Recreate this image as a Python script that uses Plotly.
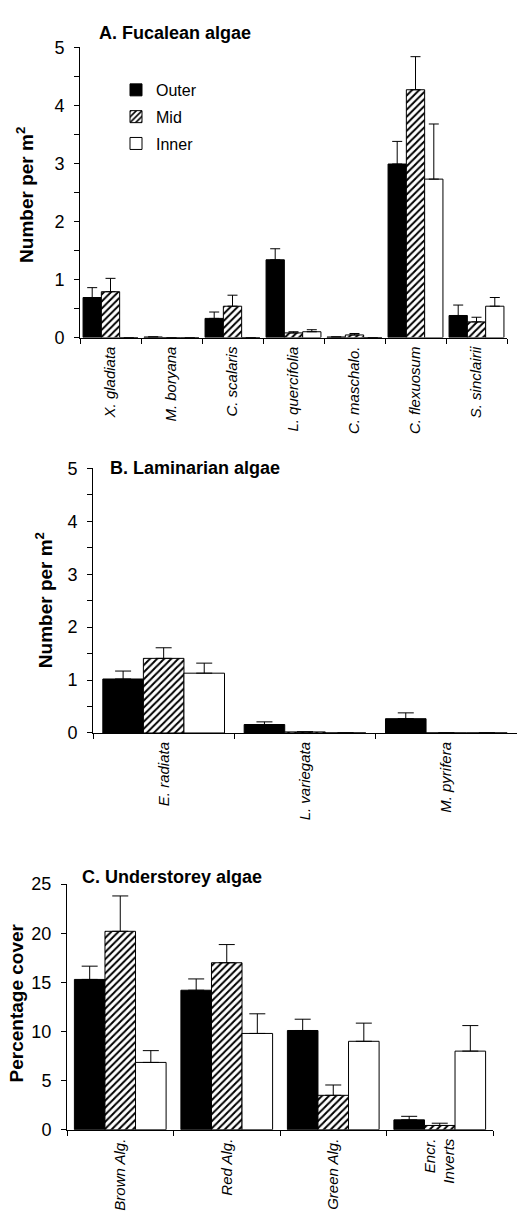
import plotly.graph_objects as go

# ---- Panel A: Fucalean algae (number per m2) ----
fuc_species = ["X. gladiata", "M. boryana", "C. scalaris", "L. quercifolia",
               "C. maschalo.", "C. flexuosum", "S. sinclairii"]
fuc_outer = [0.69, 0.01, 0.33, 1.34, 0.01, 2.99, 0.38]
fuc_outer_se = [0.17, 0.0, 0.11, 0.19, 0.0, 0.39, 0.18]
fuc_mid = [0.79, 0.0, 0.54, 0.08, 0.045, 4.27, 0.27]
fuc_mid_se = [0.23, 0.0, 0.19, 0.02, 0.025, 0.57, 0.08]
fuc_inner = [0.0, 0.0, 0.0, 0.10, 0.0, 2.73, 0.54]
fuc_inner_se = [0.0, 0.0, 0.0, 0.035, 0.0, 0.95, 0.15]

# ---- Panel B: Laminarian algae (number per m2) ----
lam_species = ["E. radiata", "L. variegata", "M. pyrifera"]
lam_outer = [1.02, 0.16, 0.27]
lam_outer_se = [0.15, 0.05, 0.11]
lam_mid = [1.41, 0.02, 0.0]
lam_mid_se = [0.20, 0.0, 0.0]
lam_inner = [1.13, 0.0, 0.0]
lam_inner_se = [0.19, 0.0, 0.0]

# ---- Panel C: Understorey algae (percentage cover) ----
und_groups = ["Brown Alg.", "Red Alg.", "Green Alg.", "Encr.<br>Inverts"]
und_outer = [15.3, 14.2, 10.1, 1.0]
und_outer_se = [1.35, 1.15, 1.15, 0.36]
und_mid = [20.2, 17.0, 3.5, 0.43]
und_mid_se = [3.6, 1.85, 1.05, 0.23]
und_inner = [6.85, 9.8, 9.0, 8.0]
und_inner_se = [1.2, 2.0, 1.85, 2.6]

zones = ["Outer", "Mid", "Inner"]

W, H = 517, 1223
FONT = "Liberation Sans, Arial, sans-serif"


def px_x(p):
    return p / W


def px_y(p):
    return 1 - p / H


def zone_marker(zone):
    line = dict(color="black", width=1)
    if zone == "Outer":
        return dict(color="black", line=line)
    if zone == "Mid":
        return dict(color="white", line=line,
                    pattern=dict(shape="/", fgcolor="black", bgcolor="white",
                                 size=5, solidity=0.4, fillmode="replace"))
    return dict(color="white", line=line)


panels = [
    dict(cats=fuc_species, vals=[fuc_outer, fuc_mid, fuc_inner],
         ses=[fuc_outer_se, fuc_mid_se, fuc_inner_se], ax="", width=0.30, cap=5),
    dict(cats=lam_species, vals=[lam_outer, lam_mid, lam_inner],
         ses=[lam_outer_se, lam_mid_se, lam_inner_se], ax="2", width=0.287, cap=8),
    dict(cats=und_groups, vals=[und_outer, und_mid, und_inner],
         ses=[und_outer_se, und_mid_se, und_inner_se], ax="3", width=0.287, cap=8),
]

fig = go.Figure()
for pi, p in enumerate(panels):
    w = p["width"]
    for zi, zone in enumerate(zones):
        fig.add_trace(go.Bar(
            x=p["cats"], y=p["vals"][zi],
            name=zone, legendgroup=zone, showlegend=(pi == 0),
            xaxis="x" + p["ax"], yaxis="y" + p["ax"],
            width=w, offset=-1.5 * w + zi * w,
            marker=zone_marker(zone),
            error_y=dict(type="data", symmetric=False, array=p["ses"][zi],
                         arrayminus=[0] * len(p["cats"]),
                         color="black", thickness=1, width=p["cap"]),
        ))

xcommon = dict(type="category", showline=True, linecolor="black", linewidth=1,
               ticks="outside", tickson="boundaries", ticklen=5, tickcolor="black",
               tickangle=-90, showgrid=False, zeroline=False, fixedrange=True,
               tickfont=dict(family=FONT, size=15, color="black", style="italic"),
               ticklabelstandoff=2)
ycommon = dict(showline=True, linecolor="black", linewidth=1, ticks="outside",
               ticklen=5, tickcolor="black", showgrid=False, zeroline=False,
               tickfont=dict(family=FONT, size=18, color="black"),
               ticklabelstandoff=6, fixedrange=True)

fig.update_layout(
    width=W, height=H, autosize=False,
    margin=dict(l=0, r=0, t=0, b=0),
    paper_bgcolor="white", plot_bgcolor="white",
    barmode="overlay",
    font=dict(family=FONT, color="black"),
    xaxis=dict(xcommon, domain=[px_x(80), px_x(507)], anchor="y"),
    yaxis=dict(ycommon, domain=[px_y(333), px_y(38)], range=[0, 5], dtick=1,
               minor=dict(dtick=0.5, ticks="outside", ticklen=5, tickcolor="black"),
               anchor="x"),
    xaxis2=dict(xcommon, domain=[px_x(93), 1.0], anchor="y2"),
    yaxis2=dict(ycommon, domain=[px_y(735), px_y(466)], range=[0, 5], dtick=1,
                minor=dict(dtick=0.5, ticks="outside", ticklen=5, tickcolor="black"),
                anchor="x2"),
    xaxis3=dict(xcommon, domain=[px_x(67), px_x(493)], anchor="y3"),
    yaxis3=dict(ycommon, domain=[px_y(1138.3), px_y(888.7)], range=[0, 25], dtick=5,
                anchor="x3"),
    legend=dict(x=px_x(116), y=px_y(64), xanchor="left", yanchor="top",
                bgcolor="rgba(0,0,0,0)", borderwidth=0, tracegroupgap=3,
                font=dict(family=FONT, size=16, color="black")),
)

titles = [
    ("A. Fucalean algae", 97, 23),
    ("B. Laminarian algae", 108, 465.5),
    ("C. Understorey algae", 80, 881.5),
]
for text, x, y in titles:
    fig.add_annotation(text="<b>" + text + "</b>", x=px_x(x), y=px_y(y),
                       xref="paper", yref="paper", xanchor="left", yanchor="middle",
                       showarrow=False, font=dict(family=FONT, size=18, color="black"))

ytitles = [
    ("Number per m<sup>2</sup>", 25, 188),
    ("Number per m<sup>2</sup>", 44, 600),
    ("Percentage cover", 16, 1010),
]
for text, x, y in ytitles:
    fig.add_annotation(text="<b>" + text + "</b>", x=px_x(x), y=px_y(y),
                       xref="paper", yref="paper", xanchor="center", yanchor="middle",
                       textangle=-90, showarrow=False,
                       font=dict(family=FONT, size=19, color="black"))

fig.write_html("out.html")
